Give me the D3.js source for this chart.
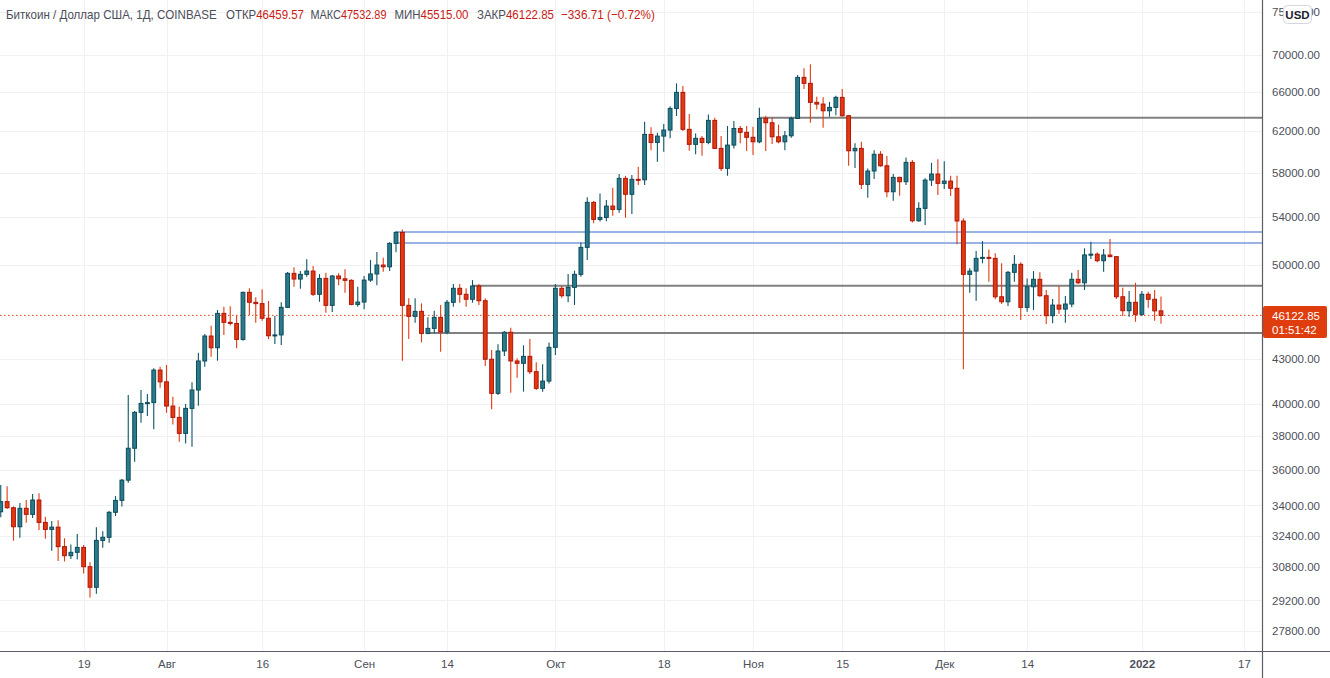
<!DOCTYPE html>
<html><head><meta charset="utf-8">
<script src="https://cdnjs.cloudflare.com/ajax/libs/d3/7.8.5/d3.min.js"></script>
<style>
body{margin:0;background:#fff;}
svg{display:block;}
text{font-family:"Liberation Sans",Arial,sans-serif;}
</style>
</head><body>
<svg id="chart" width="1330" height="678"></svg>
<script>
// ---- Data (daily BTC/USD, Coinbase) from 2021-07-06 to 2022-01-04 ----
const firstDay = "2021-07-06";
const lastDay = "2022-01-04";

const openValues = [
  // Jul
  33660,34210,33880,32860,33850,33520,34300,33090,32720,32840,31830,31370,31540,31790,30820,29820,32150,32310,33630,34280,35410,37270,39480,40050,40100,42250,
  // Aug
  41460,39880,39160,38170,39730,40920,42870,44620,43790,46270,45610,45530,44380,47860,47100,47000,45910,44640,44700,46720,49340,48890,49260,49520,47710,48940,46870,49130,48910,48790,46940,
  // Sep
  47120,48810,49290,50000,49860,51770,52690,46870,46050,46420,44810,45170,45980,44910,47100,48170,47710,47330,48350,47220,42990,40700,43560,44890,42870,42710,43190,42140,41030,41510,
  // Oct
  43820,48170,47600,48240,49260,51440,55290,53800,53970,54960,54670,57460,56010,57370,57330,61660,60870,61490,62090,64280,65960,62160,60680,61270,60870,63060,60290,58390,60610,62250,61860,
  // Nov
  61370,60930,63260,62820,61420,60930,61520,63260,67560,66920,64910,64730,64040,64390,65430,63530,60060,60290,56910,58140,59720,58630,56240,57550,57150,58950,53680,54760,57300,57860,
  // Dec
  57000,57210,56550,53660,49260,49520,50540,50620,50540,47520,47140,49420,50060,46720,48290,48870,47600,46100,46890,46590,46970,48870,48600,50820,50880,50350,50810,50680,47520,46470,47100,
  // Jan
  46200,47710,47330,46459.57
];
const highValues = [
  35130,35070,33950,34130,34300,34630,34670,33390,33160,33200,32260,31940,32480,31910,31040,32840,32630,33700,34520,35480,40590,39560,40920,40660,42370,42480,
  42600,40480,39830,40010,41430,43440,44760,45360,46520,46770,46800,46150,47900,48170,47480,48090,47200,46070,47100,49440,49820,49520,50460,49920,49280,49390,49200,49340,49660,48880,48290,
  49130,50400,51050,50590,51870,52790,52940,47400,47400,47020,45980,46470,46890,47270,48500,48500,48170,48810,48500,47400,43630,44030,44980,45220,43050,43960,44400,42780,42640,44160,
  48500,48350,49280,49550,51850,55740,55400,56090,55490,56600,57860,57690,57760,58540,62920,62360,61820,62690,64500,66920,66630,63700,61750,61490,63670,63330,61490,62490,62990,62490,62490,
  62420,64350,63530,63370,62640,62000,63430,67810,68550,68990,65490,65440,64960,65600,66310,63600,60780,60930,58370,60110,60030,59550,57860,57600,59420,59170,55310,57470,58910,59260,
  59070,57690,57690,53890,49740,51140,51960,51270,50950,50140,49520,50810,50220,48940,49520,49420,48040,47350,48350,47570,49390,49600,51360,51900,51030,51300,52130,50700,48210,47960,48600,
  47960,47900,48040,47532.89
];
const lowValues = [
  33370,33810,32130,32290,33070,33330,32690,32240,31620,31100,31080,31200,31180,30490,29330,29510,31770,32030,33430,33940,35260,36470,38830,39250,38420,41070,
  39450,38720,37660,37560,37360,39900,42480,43160,42890,44690,45380,43750,44280,46150,45580,45720,44400,44050,43980,46670,48290,48130,49070,47580,47140,46320,46370,48400,47830,46870,46770,
  46570,48670,48400,49470,49520,51030,42890,44400,45580,44170,44750,44800,43510,44740,46770,47070,46770,47070,46890,42520,39670,40590,43210,40740,41730,40810,41980,40920,40810,41350,
  43280,47450,47100,46900,49070,50400,53460,53620,53640,54110,54370,53940,54260,56850,56850,60120,59010,59960,61270,63500,62000,60060,59720,59580,60680,60230,58140,57700,60290,60780,60030,
  59650,60780,60030,60710,60780,60120,61320,63200,66310,62820,64180,62320,63430,63590,63430,58630,58430,56480,55700,57390,58540,55740,55430,55880,56850,53540,53600,53310,56760,55940,
  56480,55850,51690,42300,47830,47220,50140,48680,47330,46970,46820,48680,45780,46390,46520,47520,45490,45540,46220,45580,46720,48500,48040,50480,50220,49470,50630,47350,46070,46020,45650,
  46070,46690,45730,45515
];
const closeValues = [
  34210,33880,32860,33850,33520,34300,33090,32720,32840,31830,31370,31540,31790,30820,29820,32150,32310,33630,34280,35410,37270,39480,40050,40100,42250,41460,
  39880,39160,38170,39730,40920,42870,44620,43790,46270,45610,45530,44380,47860,47100,47000,45910,44640,44700,46720,49340,48890,49260,49520,47710,48940,46870,49130,48910,48790,46940,47120,
  48810,49290,50000,49860,51770,52690,46870,46050,46420,44810,45170,45980,44910,47100,48170,47710,47330,48350,47220,42990,40700,43560,44890,42870,42710,43190,42140,41030,41510,43820,
  48170,47600,48240,49260,51440,55290,53800,53970,54960,54670,57460,56010,57370,57330,61660,60870,61490,62090,64280,65960,62160,60680,61270,60870,63060,60290,58390,60610,62250,61860,61370,
  60930,63260,62820,61420,60930,61520,63260,67560,66920,64910,64730,64040,64390,65430,63530,60060,60290,56910,58140,59720,58630,56240,57550,57150,58950,53680,54760,57300,57860,57000,
  57210,56550,53660,49260,49520,50540,50620,50540,47520,47140,49420,50060,46720,48290,48870,47600,46100,46890,46590,46970,48870,48600,50820,50880,50350,50810,50680,47520,46470,47100,46200,
  47710,47330,46459.57,46122.85
];

// Axis ticks
const priceTicks = [27800,29200,30800,32400,34000,36000,38000,40000,43000,50000,54000,58000,62000,66000,70000,75000];
const dateTickDates = ["2021-07-19","2021-08-01","2021-08-16","2021-09-01","2021-09-14","2021-10-01","2021-10-18","2021-11-01","2021-11-15","2021-12-01","2021-12-14","2022-01-01","2022-01-17"];
const dateTickLabels = ["19","Авг","16","Сен","14","Окт","18","Ноя","15","Дек","14","2022","17"];

// Horizontal levels drawn on the chart
const grayLevelPrices = [63330, 48370, 44830];
const grayLevelStarts = ["2021-11-02","2021-09-18","2021-09-11"];
const blueLevelPrices = [52720, 51800];
const blueLevelStarts = ["2021-09-06","2021-09-06"];

const lastPrice = 46122.85;
const countdown = "01:51:42";
const headerTitle = "Биткоин / Доллар США, 1Д, COINBASE";
const headerLabels = ["ОТКР","МАКС","МИН","ЗАКР"];
const headerValues = ["46459.57","47532.89","45515.00","46122.85"];
const headerChange = "\u2212336.71 (\u22120.72%)";

// ---- Layout ----
const W = 1330, H = 678, axisX = 1262, axisY = 651;
const parse = d3.utcParse("%Y-%m-%d");
const days = d3.utcDay.range(parse(firstDay), d3.utcDay.offset(parse(lastDay), 1));
const candles = days.map((d, i) => ({date: d, o: openValues[i], h: highValues[i], l: lowValues[i], c: closeValues[i]}));

const x = d3.scaleUtc().domain([parse("2021-07-20"), parse("2022-01-04")]).range([90, 1161]);
const y = d3.scaleLog().domain([26923, 76491]).range([axisY, 0]);

const svg = d3.select("#chart");
svg.append("rect").attr("width", W).attr("height", H).attr("fill", "#ffffff");

// grid
const grid = svg.append("g");
grid.selectAll(".hg").data(priceTicks).join("line")
  .attr("x1", 0).attr("x2", axisX).attr("y1", d => Math.round(y(d)) + 0.5).attr("y2", d => Math.round(y(d)) + 0.5)
  .attr("stroke", "#f0f1f4").attr("stroke-width", 1);
grid.selectAll(".vg").data(dateTickDates).join("line")
  .attr("x1", d => Math.round(x(parse(d))) + 0.5).attr("x2", d => Math.round(x(parse(d))) + 0.5)
  .attr("y1", 0).attr("y2", axisY)
  .attr("stroke", "#f0f1f4").attr("stroke-width", 1);

// level lines
const lv = svg.append("g");
lv.selectAll(".blue").data(blueLevelPrices).join("line")
  .attr("x1", (d, i) => x(parse(blueLevelStarts[i]))).attr("x2", axisX)
  .attr("y1", d => y(d)).attr("y2", d => y(d))
  .attr("stroke", "#9ab3e5").attr("stroke-width", 2);
lv.selectAll(".gray").data(grayLevelPrices).join("line")
  .attr("x1", (d, i) => x(parse(grayLevelStarts[i]))).attr("x2", axisX)
  .attr("y1", d => y(d)).attr("y2", d => y(d))
  .attr("stroke", "#808080").attr("stroke-width", 2);

// current price dotted line
svg.append("line").attr("x1", 0).attr("x2", axisX)
  .attr("y1", y(lastPrice)).attr("y2", y(lastPrice))
  .attr("stroke", "#e0421a").attr("stroke-width", 1).attr("stroke-dasharray", "1.5,2.5");

// candles
const bw = 3.8;
const cg = svg.append("g");
const cs = cg.selectAll("g.c").data(candles).join("g");
cs.append("line")
  .attr("x1", d => x(d.date)).attr("x2", d => x(d.date))
  .attr("y1", d => y(d.h)).attr("y2", d => y(d.l))
  .attr("stroke", d => d.c >= d.o ? "#0d5565" : "#e23b0f").attr("stroke-width", 1.1);
cs.append("rect")
  .attr("x", d => x(d.date) - bw / 2)
  .attr("y", d => y(Math.max(d.o, d.c)))
  .attr("width", bw)
  .attr("height", d => Math.max(1, Math.abs(y(d.o) - y(d.c))))
  .attr("fill", d => d.c >= d.o ? "#2b7a8b" : "#e03a0e")
  .attr("stroke", d => d.c >= d.o ? "#0b4c5b" : "#b1140a")
  .attr("stroke-width", 1);

// axes lines
svg.append("line").attr("x1", 0).attr("x2", W).attr("y1", axisY + 0.5).attr("y2", axisY + 0.5).attr("stroke", "#5a5d68").attr("stroke-width", 1.2);
svg.append("line").attr("x1", axisX + 0.5).attr("x2", axisX + 0.5).attr("y1", 0).attr("y2", H).attr("stroke", "#5a5d68").attr("stroke-width", 1.2);

// right axis
const yAxis = d3.axisRight(y).tickValues(priceTicks).tickFormat(d => d.toFixed(2)).tickSize(0).tickPadding(10);
const ya = svg.append("g").attr("transform", `translate(${axisX},0)`).call(yAxis);
ya.select(".domain").remove();
ya.selectAll("text").attr("fill", "#4c4f59").attr("font-size", "11.5px")
  .style("font-family", '"Liberation Sans",Arial,sans-serif');

// bottom axis
const xAxis = d3.axisBottom(x).tickValues(dateTickDates.map(parse)).tickFormat((d, i) => dateTickLabels[i]).tickSize(0).tickPadding(9);
const xa = svg.append("g").attr("transform", `translate(0,${axisY})`).call(xAxis);
xa.select(".domain").remove();
xa.selectAll("text").attr("fill", "#4c4f59").attr("font-size", "11.5px")
  .attr("font-weight", (d, i) => dateTickLabels[i] === "2022" ? "bold" : "normal")
  .style("font-family", '"Liberation Sans",Arial,sans-serif');

// USD badge
svg.append("rect").attr("x", 1283.5).attr("y", 5.5).attr("width", 28).attr("height", 18).attr("rx", 4)
  .attr("fill", "#ffffff").attr("stroke", "#d4d6dc");
svg.append("text").attr("x", 1297.5).attr("y", 19).attr("text-anchor", "middle")
  .attr("font-size", "11.5px").attr("font-weight", "bold").attr("fill", "#1e222d").text("USD");

// last price label
svg.append("rect").attr("x", axisX + 1).attr("y", 306).attr("width", 64).attr("height", 32).attr("rx", 2)
  .attr("fill", "#df3d0d");
svg.append("text").attr("x", 1272).attr("y", 320).attr("font-size", "11.5px").attr("fill", "#ffffff").text(d3.format(".2f")(lastPrice));
svg.append("text").attr("x", 1272).attr("y", 334).attr("font-size", "11.5px").attr("fill", "#ffffff").text(countdown);

// header: each segment squeezed to its width in the reference
function headerSeg(x0, targetW, parts) {
  const t = svg.append("text").attr("x", x0).attr("y", 19).attr("font-size", "13px");
  parts.forEach(p => t.append("tspan").attr("fill", p[1]).text(p[0]));
  const w = t.node().getComputedTextLength();
  const s = Math.min(1, targetW / w);
  t.attr("transform", `translate(${x0},0) scale(${s},1) translate(${-x0},0)`);
}
const grayTxt = "#4a4d57", redTxt = "#c81b12";
headerSeg(6, 211, [[headerTitle, grayTxt]]);
const hx = [226, 310.5, 394.5, 477], hw = [78, 76, 74, 77];
headerLabels.forEach((lab, i) => headerSeg(hx[i], hw[i], [[lab, grayTxt], [headerValues[i], redTxt]]));
headerSeg(561, 94, [[headerChange, redTxt]]);
</script>
</body></html>
